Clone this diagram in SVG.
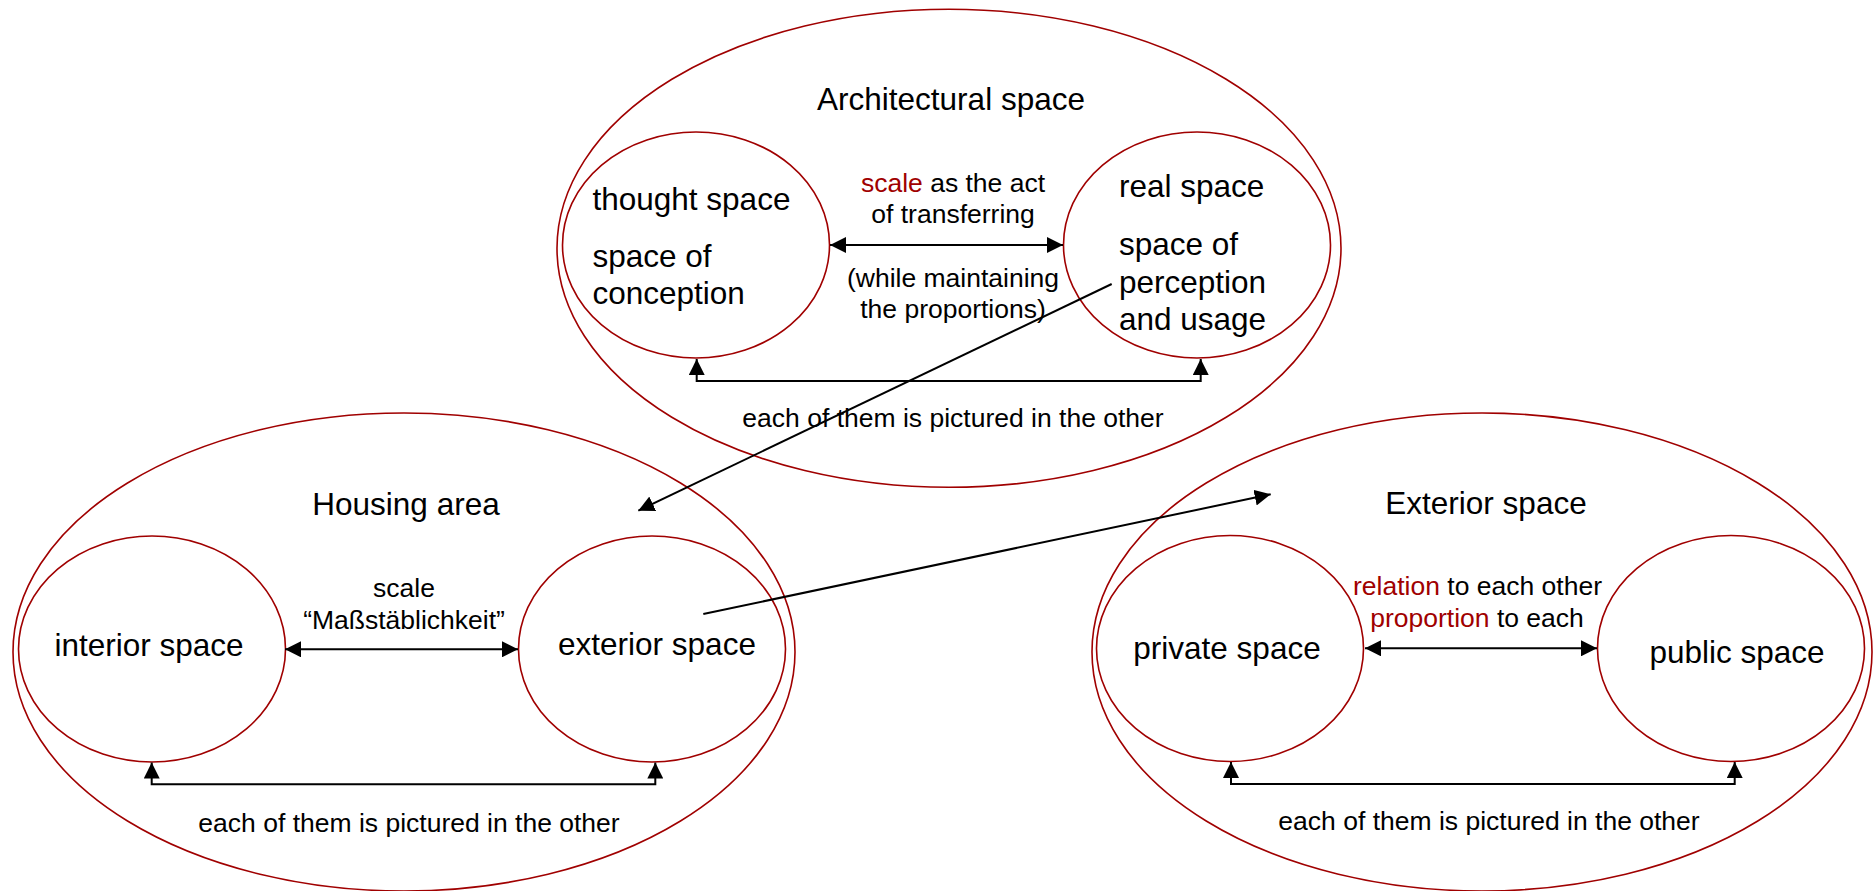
<svg xmlns="http://www.w3.org/2000/svg" width="1874" height="891" viewBox="0 0 1874 891">
<style>
.el{fill:none;stroke:#a00000;stroke-width:1.6}
.t{font-family:"Liberation Sans",Arial,sans-serif;fill:#000}
.L{font-size:31.5px}
.S{font-size:26.5px}
.m{text-anchor:middle}
.r{fill:#a00000}
.c{fill:none;stroke:#000;stroke-width:2}
</style>
<defs>
<marker id="ah" markerUnits="userSpaceOnUse" markerWidth="16" markerHeight="16" refX="15" refY="7.5" orient="auto-start-reverse" viewBox="0 0 15 15">
<path d="M0,0 L15,7.5 L0,15 z" fill="#000"/>
</marker>
</defs>
<rect width="1874" height="891" fill="#fff"/>
<g id="architectural-space">
<ellipse class="el" cx="949" cy="248.3" rx="392" ry="239"/>
<text class="t L m" x="951" y="110">Architectural space</text>
<text class="t S m" x="953" y="426.7">each of them is pictured in the other</text>
<text class="t S m" x="953" y="191.7"><tspan class="r">scale</tspan> as the act</text>
<text class="t S m" x="953" y="223">of transferring</text>
<text class="t S m" x="953" y="287">(while maintaining</text>
<text class="t S m" x="953" y="318">the proportions)</text>
</g>
<g id="thought-space">
<ellipse class="el" cx="696" cy="245" rx="133.5" ry="113"/>
<text class="t L" x="592.5" y="210">thought space</text>
<text class="t L" x="592.5" y="266.7">space of</text>
<text class="t L" x="592.5" y="304">conception</text>
</g>
<g id="real-space">
<ellipse class="el" cx="1197" cy="245" rx="133.5" ry="113"/>
<text class="t L" x="1119" y="196.7">real space</text>
<text class="t L" x="1119" y="255">space of</text>
<text class="t L" x="1119" y="293">perception</text>
<text class="t L" x="1119" y="330">and usage</text>
</g>
<g id="housing-area">
<ellipse class="el" cx="404" cy="652" rx="391" ry="239"/>
<text class="t L m" x="406" y="515">Housing area</text>
<text class="t S m" x="404" y="597">scale</text>
<text class="t S m" x="404" y="629.3">“Maßstäblichkeit”</text>
<text class="t S m" x="409" y="831.7">each of them is pictured in the other</text>
</g>
<g id="interior-space">
<ellipse class="el" cx="152" cy="649" rx="133.5" ry="113"/>
<text class="t L m" x="149" y="656">interior space</text>
</g>
<g id="exterior-space-housing">
<ellipse class="el" cx="652" cy="649" rx="133.5" ry="113"/>
<text class="t L m" x="657" y="655">exterior space</text>
</g>
<g id="exterior-space">
<ellipse class="el" cx="1482" cy="652" rx="390" ry="239"/>
<text class="t L m" x="1486" y="514.3">Exterior space</text>
<text class="t S m" x="1477.5" y="595"><tspan class="r">relation</tspan> to each other</text>
<text class="t S m" x="1477" y="626.7"><tspan class="r">proportion</tspan> to each</text>
<text class="t S m" x="1489" y="830">each of them is pictured in the other</text>
</g>
<g id="private-space">
<ellipse class="el" cx="1230" cy="648.5" rx="133.5" ry="113"/>
<text class="t L m" x="1227" y="659">private space</text>
</g>
<g id="public-space">
<ellipse class="el" cx="1731" cy="648.5" rx="133.5" ry="113"/>
<text class="t L m" x="1737" y="663">public space</text>
</g>
<g id="connectors">
<path class="c" d="M830,245 H1063" marker-start="url(#ah)" marker-end="url(#ah)"/>
<path class="c" d="M696.7,359 V381 H1200.7 V359" marker-start="url(#ah)" marker-end="url(#ah)"/>
<path class="c" d="M285,649.3 H518" marker-start="url(#ah)" marker-end="url(#ah)"/>
<path class="c" d="M151.7,762.5 V784.3 H655.3 V762.5" marker-start="url(#ah)" marker-end="url(#ah)"/>
<path class="c" d="M1365,648.3 H1597" marker-start="url(#ah)" marker-end="url(#ah)"/>
<path class="c" d="M1231,762 V784 H1734.7 V762" marker-start="url(#ah)" marker-end="url(#ah)"/>
<path class="c" d="M1111.7,284 L638.3,510.7" marker-end="url(#ah)"/>
<path class="c" d="M703.3,614 L1270.7,494.3" marker-end="url(#ah)"/>
</g>
</svg>
